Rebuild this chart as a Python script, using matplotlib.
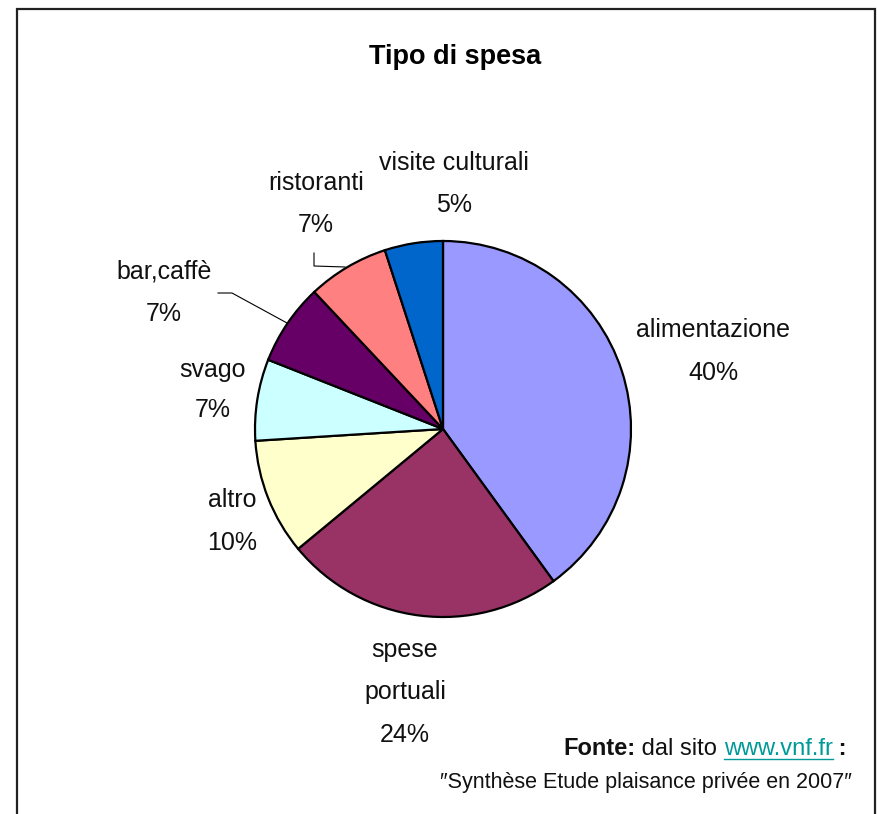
import matplotlib
matplotlib.use("Agg")
import matplotlib.pyplot as plt
from matplotlib.patches import Rectangle

categories = ["alimentazione", "spese portuali", "altro", "svago", "bar,caffè", "ristoranti", "visite culturali"]
values = [40, 24, 10, 7, 7, 7, 5]
colors = ["#9999FF", "#993366", "#FFFFCC", "#CCFFFF", "#660066", "#FF8080", "#0066CC"]
pct_labels = ["40%", "24%", "10%", "7%", "7%", "7%", "5%"]
title = "Tipo di spesa"

FONT = ["Liberation Sans", "DejaVu Sans"]

W, H = 877, 814
fig = plt.figure(figsize=(W / 100, H / 100), dpi=100)
ax = fig.add_axes([0, 0, 1, 1])

def Y(py):
    return H - py

cx, cy, r = 443, 429, 188
ax.pie(values, colors=colors, startangle=90, counterclock=False,
       center=(cx, Y(cy)), radius=r,
       wedgeprops=dict(edgecolor="black", linewidth=1.6))
ax.set_xlim(0, W)
ax.set_ylim(0, H)
ax.set_aspect("equal")
ax.axis("off")

# frame
ax.add_patch(Rectangle((17, Y(830)), 858, 830 - 9, fill=False, edgecolor="#222222", linewidth=1.6, clip_on=False))

ax.text(455, Y(57), title, ha="center", va="center", fontsize=19.5, fontweight="bold", family=FONT)

label_pos = {
    "alimentazione": (713, [330, 373]),
    "spese portuali": (405, [650, 692, 735]),
    "altro": (232, [500, 543]),
    "svago": (213, [370, 410]),
    "bar,caffè": (164, [272, 314]),
    "ristoranti": (316, [183, 225]),
    "visite culturali": (454, [163, 205]),
}
for cat, pct in zip(categories, pct_labels):
    x, ys = label_pos[cat]
    lines = cat.split(" ") if cat == "spese portuali" else [cat]
    lines = lines + [pct]
    for line, py in zip(lines, ys):
        ax.text(x, Y(py), line, ha="center", va="center", fontsize=18, family=FONT, color="#111111")

# leader lines
ax.plot([218, 232, 287], [Y(293), Y(293), Y(323)], color="black", lw=0.8)
ax.plot([314, 314, 345], [Y(253), Y(266), Y(267)], color="black", lw=0.8)

# source text
fig.canvas.draw()
rend = fig.canvas.get_renderer()
inv = ax.transData.inverted()
x = 563
by = Y(755)
parts = [("Fonte:", "bold", "#111111", False), (" dal sito ", "normal", "#111111", False),
         ("www.vnf.fr", "normal", "#009999", True), (" :", "bold", "#111111", False)]
for s, wt, col, ul in parts:
    t = ax.text(x, by, s, ha="left", va="baseline", fontsize=17, fontweight=wt, family=FONT, color=col)
    bb = t.get_window_extent(rend)
    (x0, _), (x1, _) = inv.transform([(bb.x0, bb.y0), (bb.x1, bb.y1)])
    if ul:
        ax.plot([x0, x1], [by - 4, by - 4], color=col, lw=1)
    x = x1
ax.text(852, Y(788), "\u2033Synthèse Etude plaisance privée en 2007\u2033", ha="right", va="baseline",
        fontsize=15.5, family=FONT, color="#111111")

fig.savefig("out.png", dpi=100)
